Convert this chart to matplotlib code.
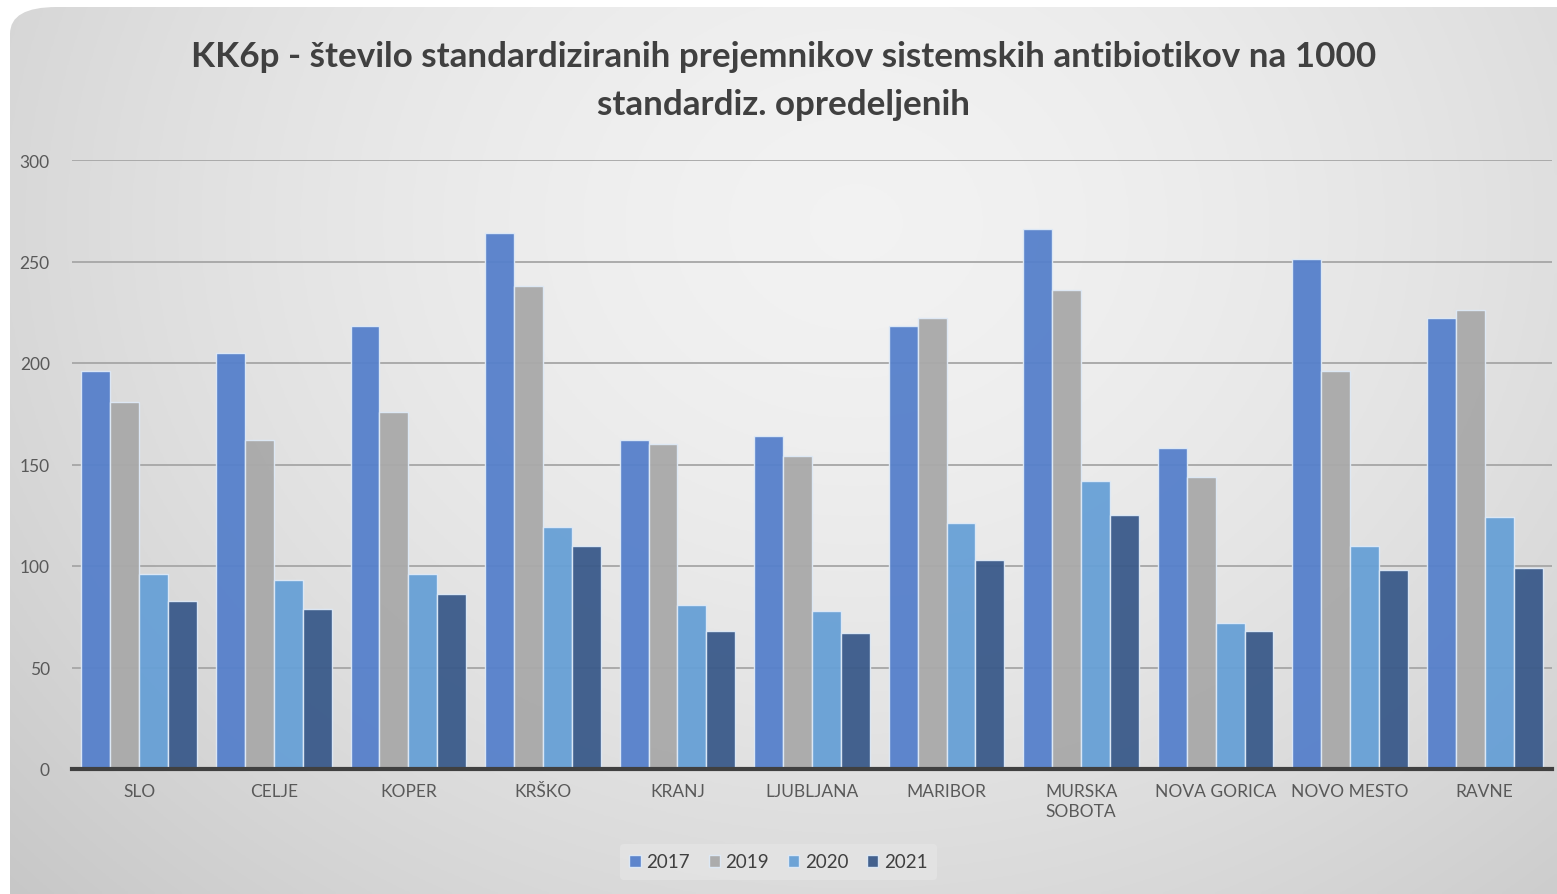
import numpy as np
import matplotlib
matplotlib.use("Agg")
import matplotlib.pyplot as plt
from matplotlib.patches import FancyBboxPatch

# data
regions = ["SLO", "CELJE", "KOPER", "KRŠKO", "KRANJ", "LJUBLJANA", "MARIBOR",
           "MURSKA\nSOBOTA", "NOVA GORICA", "NOVO MESTO", "RAVNE"]
years = ["2017", "2019", "2020", "2021"]
v2017 = [196, 205, 218, 264, 162, 164, 218, 266, 158, 251, 222]
v2019 = [181, 162, 176, 238, 160, 154, 222, 236, 144, 196, 226]
v2020 = [96, 93, 96, 119, 81, 78, 121, 142, 72, 110, 124]
v2021 = [83, 79, 86, 110, 68, 67, 103, 125, 68, 98, 99]
colors = ["#5680cb", "#a9a9a9", "#67a0d6", "#3a5a8a"]

title = "KK6p - število standardiziranih prejemnikov sistemskih antibiotikov na 1000\nstandardiz. opredeljenih"

plt.rcParams["font.family"] = ["Lato", "DejaVu Sans"]

fig = plt.figure(figsize=(15.57, 8.95), dpi=100)
fig.patch.set_facecolor("white")

# background panel: radial grey gradient inside a rounded box
bg = fig.add_axes([0, 0, 1, 1], zorder=0)
bg.set_xlim(0, 1)
bg.set_ylim(0, 1)
bg.axis("off")
gx, gy = np.meshgrid(np.linspace(0, 1, 400), np.linspace(0, 1, 300))
r = np.sqrt(((gx - 0.55) / 0.75) ** 2 + ((gy - 0.75) / 1.1) ** 2)
shade = np.clip(0.95 - 0.17 * r ** 1.6, 0.76, 0.95)
img = bg.imshow(np.dstack([shade, shade, shade]), extent=(0, 1, 0, 1),
                origin="lower", aspect="auto", zorder=1)
box = FancyBboxPatch((10 / 1557, -0.05), 1.1, 1.05 - 8 / 895,
                     boxstyle="round,pad=0,rounding_size=0.03",
                     transform=bg.transAxes, facecolor="none", edgecolor="none")
bg.add_patch(box)
img.set_clip_path(box)

ax = fig.add_axes([72 / 1557, 1 - 770 / 895, 1480 / 1557, (770 - 161) / 895], zorder=1)
ax.patch.set_alpha(0)

x = np.arange(len(regions))
width = 0.215
series = [v2017, v2019, v2020, v2021]
for i, (vals, col, yr) in enumerate(zip(series, colors, years)):
    ax.bar(x + (i - 1.5) * width, vals, width, color=col, alpha=0.95,
           edgecolor="#dfeaf7", linewidth=1.0, label=yr, zorder=2)

ax.set_xlim(-0.5, len(regions) - 0.5)
ax.set_ylim(0, 300)
ax.set_yticks(range(0, 301, 50))
ax.yaxis.grid(True, color="#a6a6a6", linewidth=1.3, zorder=1)
ax.set_axisbelow(True)
for s in ["top", "right", "left"]:
    ax.spines[s].set_visible(False)
ax.spines["bottom"].set_color("#404040")
ax.spines["bottom"].set_linewidth(3)
ax.spines["bottom"].set_zorder(3)
ax.tick_params(axis="both", length=0, labelsize=12.5, labelcolor="#595959")
ax.tick_params(axis="y", pad=16)
ax.set_xticks(x)
ax.set_xticklabels(regions, linespacing=1.35)
ax.tick_params(axis="x", pad=10)

fig.text(0.503, 0.9095, title, ha="center", va="center", fontsize=25.2,
         fontweight="bold", color="#404040", linespacing=1.62)

leg = ax.legend(loc="center", bbox_to_anchor=(0.5, 1 - 863 / 895), bbox_transform=fig.transFigure,
                ncol=4, frameon=True, fontsize=13.5, handlelength=0.6, handleheight=0.6,
                handletextpad=0.3, columnspacing=1.0, borderpad=0.5)
leg.get_frame().set_facecolor("#e4e4e4")
leg.get_frame().set_edgecolor("none")
leg.get_frame().set_alpha(0.8)
for t in leg.get_texts():
    t.set_color("#404040")

fig.savefig("out.png", dpi=100)
